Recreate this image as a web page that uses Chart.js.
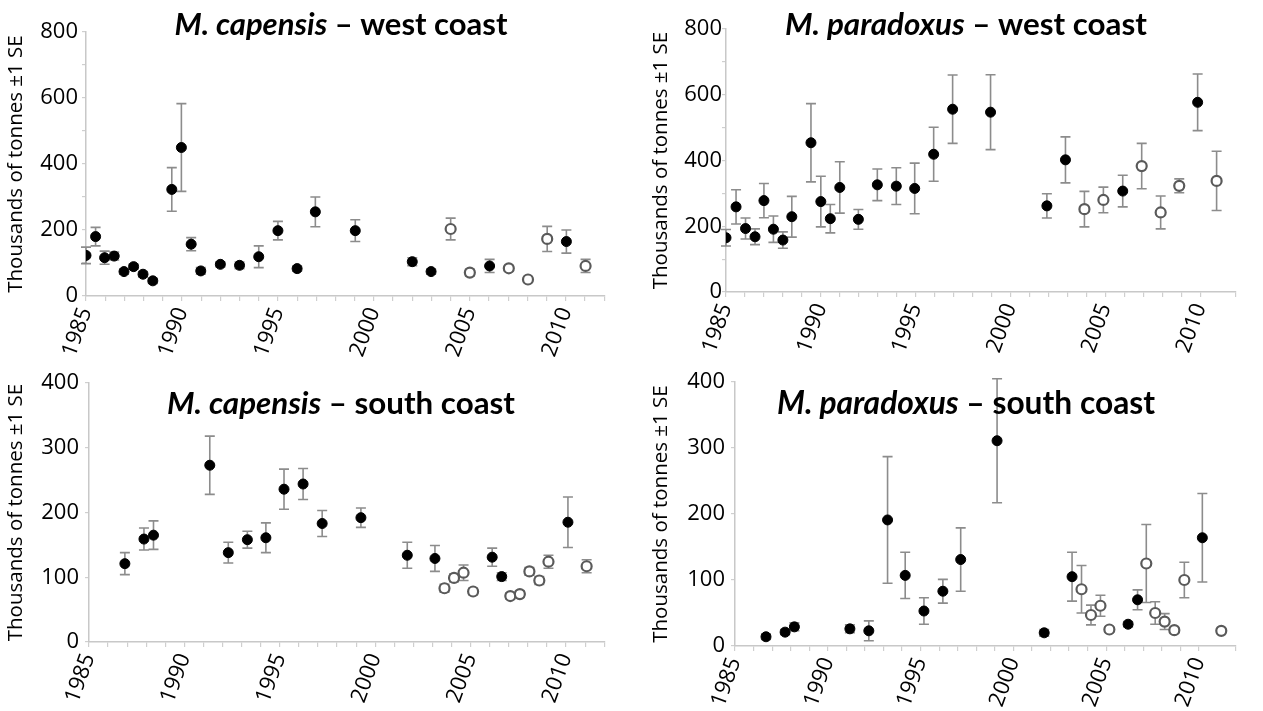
<!DOCTYPE html>
<html><head><meta charset="utf-8">
<script src="https://cdn.jsdelivr.net/npm/chart.js@4.4.1/dist/chart.umd.min.js"></script>
<style>
html,body{margin:0;padding:0;background:#fff;width:1263px;height:711px;overflow:hidden}
.p{position:absolute}
canvas{display:block}
</style></head><body>
<div class="p" style="left:0;top:0"><canvas id="c1" width="632" height="368" style="width:632px;height:368px"></canvas></div>
<div class="p" style="left:645px;top:0"><canvas id="c2" width="618" height="368" style="width:618px;height:368px"></canvas></div>
<div class="p" style="left:0;top:340px"><canvas id="c3" width="632" height="371" style="width:632px;height:371px"></canvas></div>
<div class="p" style="left:645px;top:340px"><canvas id="c4" width="618" height="371" style="width:618px;height:371px"></canvas></div>
<script>
// ---------- DATA ----------
const yAxisTitle = 'Thousands of tonnes ±1 SE';

const capWestYears  = [1985.0,1985.5,1985.97,1986.47,1986.98,1987.48,1987.97,1988.48,1989.47,1989.97,1990.48,1990.98,1992.0,1993.0,1994.0,1995.0,1996.0,1996.95,1999.03,2002.0,2002.98,2004.0,2005.0,2006.03,2007.03,2008.03,2009.03,2010.03,2011.03];
const capWestValues = [123,180,116,121,74,89,66,46,323,450,157,76,96,93,119,198,83,255,198,104,74,203,71,91,84,50,173,165,91];
const capWestSE     = [25,28,20,12,8,8,8,8,66,133,20,10,8,10,33,28,8,45,33,12,8,33,10,20,8,8,38,35,20];
const capWestHollow = [0,0,0,0,0,0,0,0,0,0,0,0,0,0,0,0,0,0,0,0,0,1,1,0,1,1,1,0,1];

const parWestYears  = [1985.0,1985.53,1986.03,1986.53,1987.0,1987.5,1988.0,1988.47,1989.48,1990.0,1990.5,1991.0,1991.98,1992.98,1993.98,1994.95,1995.95,1996.95,1998.95,2001.92,2002.9,2003.9,2004.9,2005.92,2006.92,2007.92,2008.9,2009.87,2010.87];
const parWestValues = [165,259,193,168,278,191,158,229,454,275,223,318,221,326,322,315,419,556,547,262,402,252,280,307,383,242,323,577,338];
const parWestSE     = [25,52,32,24,52,40,25,62,119,77,43,78,30,48,56,77,82,104,114,37,70,54,39,48,69,50,21,86,90];
const parWestHollow = [0,0,0,0,0,0,0,0,0,0,0,0,0,0,0,0,0,0,0,0,0,1,1,0,1,1,1,0,1];

const capSouthYears  = [1986.88,1987.88,1988.38,1991.33,1992.3,1993.3,1994.27,1995.22,1996.22,1997.22,1999.25,2001.68,2003.13,2003.63,2004.13,2004.63,2005.13,2006.13,2006.63,2007.08,2007.58,2008.08,2008.6,2009.08,2010.1,2011.08];
const capSouthValues = [121,159,165,273,138,158,161,236,244,183,192,134,129,83,99,107,78,131,101,71,74,109,95,124,185,117];
const capSouthSE     = [17,17,22,45,16,13,23,31,24,20,15,20,20,6,6,12,5,14,6,5,5,6,6,10,39,10];
const capSouthHollow = [0,0,0,0,0,0,0,0,0,0,0,0,0,1,1,1,1,0,0,1,1,1,1,1,0,1];

const parSouthYears  = [1986.67,1987.7,1988.2,1991.19,1992.21,1993.22,1994.17,1995.18,1996.2,1997.16,1999.12,2001.66,2003.16,2003.67,2004.18,2004.69,2005.17,2006.18,2006.69,2007.16,2007.64,2008.15,2008.67,2009.21,2010.18,2011.2];
const parSouthValues = [14,21,29,26,23,191,107,53,83,131,311,20,105,86,47,61,25,33,70,125,50,37,24,100,164,23];
const parSouthSE     = [4,4,6,6,15,96,35,20,18,48,94,5,37,36,15,16,4,4,15,59,17,12,4,27,67,4];
const parSouthHollow = [0,0,0,0,0,0,0,0,0,0,0,0,0,1,1,1,1,0,0,1,1,1,1,1,0,1];

// ---------- PLUGINS ----------
const errorBarPlugin = {
  id: 'errorBars',
  beforeDatasetsDraw(chart, args, o) {
    const ctx = chart.ctx, xs = chart.scales.x, ys = chart.scales.y;
    const ds = chart.data.datasets[0];
    ctx.save();
    ctx.strokeStyle = '#8c8c8c';
    ctx.lineWidth = 1.6;
    ds.data.forEach((p, i) => {
      const e = o.se[i];
      const px = xs.getPixelForValue(p.x);
      const t = ys.getPixelForValue(p.y + e), b = ys.getPixelForValue(p.y - e);
      ctx.beginPath();
      ctx.moveTo(px, t); ctx.lineTo(px, b);
      ctx.moveTo(px - 5, t); ctx.lineTo(px + 5, t);
      ctx.moveTo(px - 5, b); ctx.lineTo(px + 5, b);
      ctx.stroke();
    });
    ctx.restore();
  }
};

const titlePlugin = {
  id: 'mixedTitle',
  afterDraw(chart, args, o) {
    const ctx = chart.ctx;
    const fam = "Lato, 'Open Sans', sans-serif";
    const f1 = s => `italic bold ${s}px ${fam}`, f2 = s => `bold ${s}px ${fam}`;
    ctx.save();
    let size = o.size;
    ctx.font = f1(size); let w1 = ctx.measureText(o.italic).width;
    ctx.font = f2(size); let w2 = ctx.measureText(o.rest).width;
    if (o.width) {
      size = size * o.width / (w1 + w2);
      ctx.font = f1(size); w1 = ctx.measureText(o.italic).width;
      ctx.font = f2(size); w2 = ctx.measureText(o.rest).width;
    }
    const x0 = o.cx - (w1 + w2) / 2;
    ctx.fillStyle = '#000';
    ctx.textAlign = 'left';
    ctx.textBaseline = 'alphabetic';
    ctx.font = f1(size); ctx.fillText(o.italic, x0, o.y);
    ctx.font = f2(size); ctx.fillText(o.rest, x0 + w1, o.y);
    ctx.restore();
  }
};

// ---------- BUILD ----------
const FONT = "'Open Sans', 'Noto Sans', sans-serif";

function makeChart(id, cfg) {
  const pts = cfg.years.map((x, i) => ({ x: x, y: cfg.values[i] }));
  const bg = cfg.hollow.map(h => h ? '#ffffff' : '#000000');
  const bc = cfg.hollow.map(h => h ? '#5a5a5a' : '#000000');
  const bw = cfg.hollow.map(h => h ? 2.2 : 1);
  new Chart(document.getElementById(id), {
    type: 'scatter',
    data: { datasets: [{ data: pts, pointRadius: 5, pointHoverRadius: 5,
      pointBackgroundColor: bg, pointBorderColor: bc, pointBorderWidth: bw }] },
    plugins: [errorBarPlugin, titlePlugin],
    options: {
      responsive: false, animation: false, devicePixelRatio: 1,
      layout: { padding: { top: cfg.padTop, right: cfg.padRight, left: 0, bottom: 0 } },
      plugins: {
        legend: { display: false }, tooltip: { enabled: false },
        errorBars: { se: cfg.se },
        mixedTitle: { italic: cfg.tItalic, rest: cfg.tRest, cx: cfg.tx, y: cfg.ty, size: 26, width: cfg.tw }
      },
      scales: {
        x: {
          type: 'linear', min: 1985, max: cfg.xMax,
          ticks: { stepSize: 1, autoSkip: false, minRotation: 70, maxRotation: 70,
            callback: v => (Math.abs(v % 5) < 1e-6 ? String(Math.round(v)) : ''),
            font: { size: 22, family: FONT }, color: '#000', padding: 3 },
          grid: { drawOnChartArea: false, color: '#cfcfcf', tickLength: 5, lineWidth: 1.2 },
          border: { color: '#c8c8c8', width: 1.5 },
          afterFit: s => { s.height = cfg.xH; }
        },
        y: {
          min: 0, max: cfg.yMax,
          ticks: { stepSize: cfg.yStep, callback: v => (v % cfg.yLab === 0 ? String(v) : ''),
            font: { size: 22, family: FONT }, color: '#000', padding: cfg.yPad },
          grid: { drawOnChartArea: false, color: '#cfcfcf', tickLength: 4, lineWidth: 1.2 },
          border: { color: '#c8c8c8', width: 1.5 },
          title: { display: true, text: yAxisTitle, color: '#000',
            font: { size: 20.5, family: FONT }, padding: { top: 4, bottom: 0 } },
          afterFit: s => { s.width = cfg.yW; }
        }
      }
    }
  });
}

makeChart('c1', { years: capWestYears, values: capWestValues, se: capWestSE, hollow: capWestHollow,
  yMax: 800, yStep: 100, yLab: 200, yW: 86, yPad: 4, xH: 72, padTop: 32, padRight: 6, xMax: 2012,
  tItalic: 'M. capensis', tRest: ' – west coast', tx: 341, ty: 35, tw: 333 });
makeChart('c2', { years: parWestYears, values: parWestValues, se: parWestSE, hollow: parWestHollow,
  yMax: 800, yStep: 100, yLab: 200, yW: 81, yPad: 0, xH: 76, padTop: 29, padRight: 0, xMax: 2011.85,
  tItalic: 'M. paradoxus', tRest: ' – west coast', tx: 321, ty: 35, tw: 362 });
makeChart('c3', { years: capSouthYears, values: capSouthValues, se: capSouthSE, hollow: capSouthHollow,
  yMax: 400, yStep: 100, yLab: 100, yW: 89, yPad: 6, xH: 69, padTop: 43, padRight: 6, xMax: 2012,
  tItalic: 'M. capensis', tRest: ' – south coast', tx: 341, ty: 74, tw: 348 });
makeChart('c4', { years: parSouthYears, values: parSouthValues, se: parSouthSE, hollow: parSouthHollow,
  yMax: 400, yStep: 100, yLab: 100, yW: 90, yPad: 6, xH: 65, padTop: 42, padRight: 0, xMax: 2011.95,
  tItalic: 'M. paradoxus', tRest: ' – south coast', tx: 321, ty: 74, tw: 378 });
</script>
</body></html>
